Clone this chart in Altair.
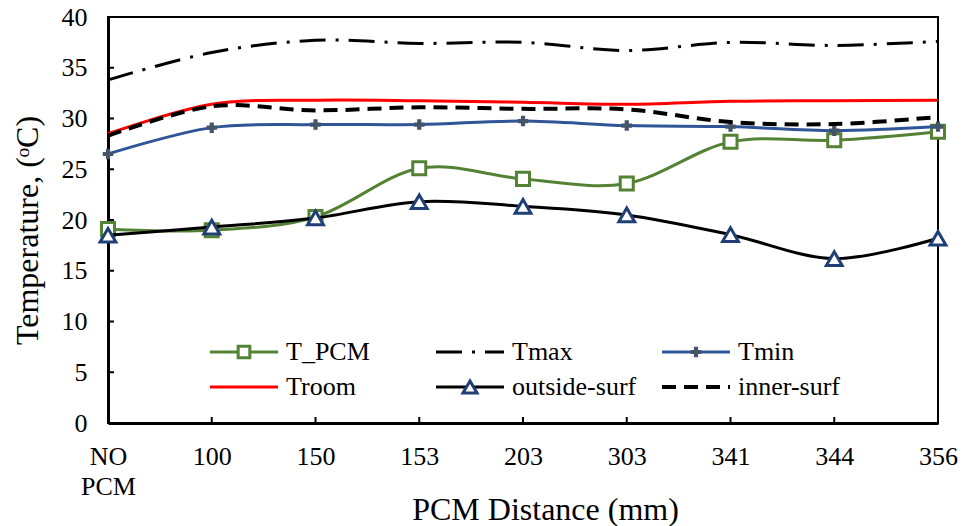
import altair as alt
import pandas as pd

# Categories along the x axis (PCM distance, mm)
distances = ["NO PCM", "100", "150", "153", "203", "303", "341", "344", "356"]

# Temperatures (°C) per series
t_pcm = [19.1, 19.0, 20.3, 25.1, 24.05, 23.6, 27.7, 27.85, 28.7]
t_max = [33.8, 36.5, 37.7, 37.4, 37.5, 36.7, 37.5, 37.2, 37.6]
t_min = [26.5, 29.1, 29.4, 29.4, 29.75, 29.3, 29.2, 28.8, 29.2]
t_room = [28.5, 31.4, 31.8, 31.75, 31.6, 31.4, 31.7, 31.75, 31.8]
outside_surf = [18.5, 19.3, 20.2, 21.8, 21.35, 20.5, 18.55, 16.2, 18.2]
inner_surf = [28.3, 31.2, 30.8, 31.1, 30.95, 30.9, 29.65, 29.45, 30.15]

series_names = ["T_PCM", "Tmax", "Tmin", "Troom", "outside-surf", "inner-surf"]
series_values = [t_pcm, t_max, t_min, t_room, outside_surf, inner_surf]

y_ticks = list(range(0, 41, 5))

# Drawing styles, in series order
styles = [
    dict(color="#548235", width=3, dash=None, shape="square", mcolor="#548235", msize=170, hollow=True),
    dict(color="black", width=3, dash=[26, 10, 3, 10], shape=None),
    dict(color="#2F5597", width=3, dash=None, shape="cross", mcolor="#44546A", msize=110, hollow=False),
    dict(color="#FF0000", width=3, dash=None, shape=None),
    dict(color="black", width=3, dash=None, shape="triangle-up", mcolor="#203F75", msize=250, hollow=True),
    dict(color="black", width=4, dash=[14, 8], shape=None),
]

W, H = 830, 406
FONT = "Times New Roman, Liberation Serif, serif"

x_enc = alt.X(
    "dist:N",
    sort=distances,
    scale=alt.Scale(type="point", padding=0),
    axis=alt.Axis(
        title="PCM Distance (mm)",
        labelAngle=0,
        labelExpr="datum.value == 'NO PCM' ? ['NO', 'PCM'] : datum.value",
        labelLineHeight=30,
        labelPadding=20,
        ticks=False,
        tickSize=0,
        titleX=437,
        titleY=96,
        titleBaseline="alphabetic",
        titleAlign="center",
    ),
)
y_enc = alt.Y(
    "temp:Q",
    scale=alt.Scale(domain=[0, 40], nice=False, zero=False),
    axis=alt.Axis(
        title="Temperature, (ᵒC)",
        values=y_ticks,
        ticks=False,
        tickSize=0,
        labelPadding=21,
        titleX=-81,
        titleY=213,
        titleAngle=-90,
        titleAlign="center",
        titleBaseline="middle",
    ),
)

layers = []

# Inward tick marks on both axes
layers.append(
    alt.Chart(pd.DataFrame({"temp": y_ticks}))
    .mark_rule(color="black", strokeWidth=2)
    .encode(y=y_enc, x=alt.value(0), x2=alt.value(6))
)
layers.append(
    alt.Chart(pd.DataFrame({"dist": distances}))
    .mark_rule(color="black", strokeWidth=2)
    .encode(x=x_enc, y=alt.value(H), y2=alt.value(H - 6))
)

# Smoothed series lines with their markers
for name, vals, st in zip(series_names, series_values, styles):
    df = pd.DataFrame({"dist": distances, "temp": vals, "series": name})
    line_kw = dict(interpolate="cardinal", tension=0, color=st["color"], strokeWidth=st["width"])
    if st["dash"]:
        line_kw["strokeDash"] = st["dash"]
    layers.append(alt.Chart(df).mark_line(**line_kw).encode(x=x_enc, y=y_enc))
    if st["shape"]:
        if st["hollow"]:
            pt = alt.Chart(df).mark_point(
                shape=st["shape"], size=st["msize"], filled=True, fill="white",
                stroke=st["mcolor"], strokeWidth=3, opacity=1,
            )
        else:
            pt = alt.Chart(df).mark_point(
                shape=st["shape"], size=st["msize"], filled=True,
                color=st["mcolor"], opacity=1,
            )
        layers.append(pt.encode(x=x_enc, y=y_enc))

# Legend inside the plot: three columns, two rows
for i, (name, st) in enumerate(zip(series_names, styles)):
    col, row = i % 3, i // 3
    x0 = 102 + col * 226
    yy = 335 + row * 35
    one = alt.Data(values=[{"label": name}])
    rule_kw = dict(color=st["color"], strokeWidth=st["width"])
    if st["dash"]:
        rule_kw["strokeDash"] = st["dash"]
    layers.append(
        alt.Chart(one).mark_rule(**rule_kw)
        .encode(x=alt.value(x0), x2=alt.value(x0 + 68), y=alt.value(yy))
    )
    if st["shape"]:
        if st["hollow"]:
            mk = alt.Chart(one).mark_point(
                shape=st["shape"], size=st["msize"] * 0.8, filled=True, fill="white",
                stroke=st["mcolor"], strokeWidth=3, opacity=1,
            )
        else:
            mk = alt.Chart(one).mark_point(
                shape=st["shape"], size=st["msize"], filled=True,
                color=st["mcolor"], opacity=1,
            )
        layers.append(mk.encode(x=alt.value(x0 + 34), y=alt.value(yy)))
    layers.append(
        alt.Chart(one)
        .mark_text(align="left", baseline="middle", font=FONT, fontSize=26, color="black")
        .encode(x=alt.value(x0 + 76), y=alt.value(yy), text="label:N")
    )

chart = (
    alt.layer(*layers)
    .properties(
        width=W,
        height=H,
        autosize="none",
        padding={"left": 108, "top": 17, "right": 24, "bottom": 103},
        background="white",
    )
    .configure_view(stroke="black", strokeWidth=2)
    .configure_axis(
        grid=False,
        domainColor="black",
        domainWidth=3,
        labelFont=FONT,
        labelFontSize=26,
        labelColor="black",
        titleFont=FONT,
        titleFontSize=32,
        titleFontWeight="normal",
        titleColor="black",
    )
)

chart.save("out.html", embed_options={"renderer": "svg", "actions": False})
